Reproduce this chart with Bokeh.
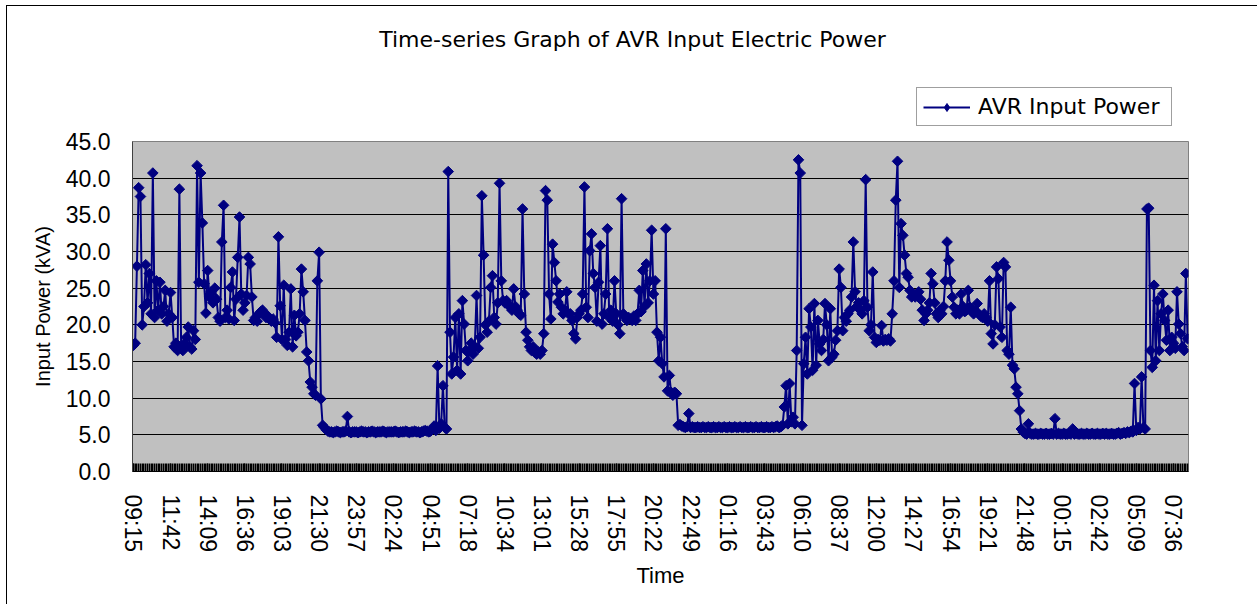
import math
from bokeh.plotting import figure
from bokeh.layouts import column
from bokeh.models import (Range1d, FixedTicker, Legend, LegendItem, Label,
                          PrintfTickFormatter)
from bokeh.embed import file_html
from bokeh.resources import INLINE

# ---------------- data ----------------
tick_labels = ["09:15", "11:42", "14:09", "16:36", "19:03", "21:30", "23:57", "02:24",
               "04:51", "07:18", "10:34", "13:01", "15:28", "17:55", "20:22", "22:49",
               "01:16", "03:43", "06:10", "08:37", "12:00", "14:27", "16:54", "19:21",
               "21:48", "00:15", "02:42", "05:09", "07:36"]

power_day1 = [
    17.2, 17.5, 28.0, 38.7, 37.5, 20.0, 22.5, 28.2, 23.0, 27.0, 21.5, 40.7, 21.0, 26.0, 22.0, 25.8, 21.5, 22.5, 24.7, 20.5, 21.5,
    24.4, 21.0, 17.0, 17.5, 16.5, 38.5, 17.0, 16.5, 17.5, 18.3, 19.7, 17.0, 16.7, 19.2, 18.0, 41.7, 25.8, 40.7, 33.9, 25.6, 21.6,
    27.4, 23.8, 24.5, 23.0, 25.0, 23.5, 21.0, 20.5, 31.3, 36.3, 21.0, 22.0, 20.8, 25.1, 27.2, 20.6, 23.5, 29.2, 34.7, 24.2, 22.0,
    23.0, 24.0, 29.2, 28.3, 23.8, 20.6, 21.0, 20.5, 21.5, 21.8, 22.0, 21.5, 21.0, 21.2, 20.8, 20.5, 20.8, 20.3, 18.3, 32.0, 22.6,
    18.0, 25.4, 18.0, 17.2, 19.0, 24.9, 17.0, 21.3, 18.5, 19.0, 21.5, 27.6, 24.5, 20.6, 16.3, 15.1, 12.2, 11.5, 10.6, 10.4, 26.0,
]
power_night1 = [
    29.9, 9.9, 6.3, 6.0, 5.7, 5.5, 5.4, 5.4, 5.3, 5.4, 5.5, 5.4, 5.3, 5.4, 5.4, 5.5, 7.5, 5.4, 5.3, 5.4, 5.4,
    5.4, 5.3, 5.4, 5.5, 5.4, 5.4, 5.3, 5.4, 5.4, 5.5, 5.4, 5.3, 5.4, 5.4, 5.4, 5.5, 5.4, 5.3, 5.4, 5.4, 5.4,
    5.4, 5.5, 5.4, 5.3, 5.4, 5.4, 5.4, 5.5, 5.4, 5.3, 5.4, 5.4, 5.5, 5.4, 5.4, 5.3, 5.4, 5.5, 5.6, 5.5, 5.4,
]
power_day2 = [
    5.5, 5.8, 6.2, 5.6, 14.4, 5.9, 6.5, 11.7, 6.0, 5.8, 40.9, 19.0, 13.3, 15.6, 21.0, 13.8, 21.5, 13.3, 23.3, 20.1, 16.5,
    15.1, 16.5, 17.5, 16.0, 17.0, 24.0, 16.8, 18.3, 37.6, 29.5, 20.0, 19.0, 20.5, 25.1, 26.7, 21.0, 20.1, 23.0, 39.3, 26.0, 23.3,
    23.0, 23.3, 22.8, 22.4, 22.0, 24.9, 22.5, 22.0, 21.5, 21.3, 35.8, 24.2, 19.0, 17.9, 17.0, 16.5, 17.0, 16.2, 16.0, 16.3, 16.0,
    16.5, 18.8, 38.3, 37.0, 24.2, 20.8, 31.0, 28.5, 26.0, 23.1, 24.2, 22.4, 21.5, 22.0, 24.5, 21.5, 21.5, 20.6, 18.8, 18.1, 21.0,
    21.5, 22.0, 24.2, 38.8, 22.4, 21.0, 30.1, 32.4, 27.0, 25.1, 20.5, 25.8, 30.8, 20.1, 21.5, 24.2, 33.1, 21.0, 22.0, 20.5, 26.0,
    21.5, 20.0, 18.8, 37.2, 21.5, 21.0, 20.6, 21.0, 20.8, 20.6, 21.2, 20.6, 21.5, 24.7, 21.8, 27.4, 22.5, 28.3, 23.0, 26.0, 32.9,
    24.2, 26.0, 19.0, 15.1, 18.3, 14.7, 12.9, 33.1, 11.0, 13.1, 10.8, 10.4, 10.8, 10.6, 6.3, 6.4, 6.2, 6.1, 6.0, 6.1, 7.9,
]
power_night2 = [
    6.0, 6.1, 6.0, 6.0, 6.1, 6.0, 6.0, 6.1, 6.0, 6.0, 6.1, 6.0, 6.0, 6.1, 6.0, 6.0, 6.1, 6.0, 6.0, 6.1, 6.0,
    6.0, 6.1, 6.0, 6.0, 6.1, 6.0, 6.0, 6.1, 6.0, 6.0, 6.1, 6.0, 6.0, 6.1, 6.0, 6.0, 6.1, 6.0, 6.0, 6.1, 6.0,
    6.0, 6.1, 6.0, 6.0, 6.1, 6.0, 6.1, 6.2, 6.0, 6.1, 6.3, 8.8, 11.7, 6.5, 12.0, 6.8, 7.4, 6.5, 16.5, 42.5, 40.7,
]
power_day3 = [
    6.3, 14.7, 18.3, 13.3, 22.2, 19.7, 13.8, 22.9, 14.5, 20.6, 17.4, 16.5, 18.0, 22.9, 20.0, 15.1, 22.2, 15.6, 16.0, 17.9, 19.2,
    27.6, 25.1, 19.2, 21.0, 20.5, 21.5, 22.0, 23.8, 31.3, 24.5, 22.5, 23.0, 22.0, 21.5, 23.3, 39.8, 22.4, 19.2, 20.0, 27.2, 18.3,
    17.6, 18.0, 17.9, 19.9, 17.8, 18.0, 17.9, 18.1, 17.8, 21.5, 26.0, 37.0, 42.3, 25.1, 33.8, 32.2, 29.5, 27.0, 26.5, 24.7, 23.8,
    24.0, 23.8, 24.2, 24.5, 23.5, 22.0, 20.6, 21.5, 22.0, 23.0, 27.0, 25.6, 23.0, 21.5, 21.0, 22.0, 21.5, 22.5, 26.0, 31.3, 28.8,
    26.0, 23.8, 22.4, 21.5, 22.0, 21.5, 24.2, 22.5, 21.8, 22.0, 24.7, 22.4, 21.8, 21.5, 21.8, 22.9, 21.5, 21.2, 21.0, 21.5, 21.0,
    20.5, 26.0, 18.8, 17.4, 20.0, 27.9, 26.3, 19.7, 18.3, 28.5, 27.9, 16.5, 16.0, 22.4, 14.5, 14.0, 11.5, 10.6, 8.3, 5.8, 5.4,
]
power_night3 = [
    5.2, 5.1, 6.5, 5.2, 5.1, 5.1, 5.2, 5.1, 5.1, 5.2, 5.1, 5.1, 5.2, 5.1, 5.1, 5.2, 5.1, 7.2, 5.1, 5.2, 5.1,
    5.1, 5.2, 5.1, 5.1, 5.2, 5.1, 5.8, 5.1, 5.2, 5.1, 5.1, 5.2, 5.1, 5.1, 5.2, 5.1, 5.1, 5.2, 5.1, 5.1, 5.2,
    5.1, 5.1, 5.2, 5.1, 5.2, 5.1, 5.1, 5.2, 5.1, 5.1, 5.2, 5.3, 5.1, 5.2, 5.3, 5.2, 5.4, 5.3, 5.5, 5.4, 12.0,
]
power_day4 = [
    5.6, 6.0, 5.8, 12.9, 6.0, 5.8, 35.8, 35.9, 16.5, 14.2, 25.4, 15.1, 23.3, 16.5, 21.5, 24.2, 20.6, 17.9, 22.0, 16.5, 18.3,
    17.5, 16.8, 24.5, 20.1, 18.8, 17.0, 16.5, 27.0, 18.1,
]

power_kva = (power_day1 + power_night1 + power_day2 + power_night2 +
             power_day3 + power_night3 + power_day4)
samples_per_label = 21
chart_title = "Time-series Graph of AVR Input Electric Power"
series_name = "AVR Input Power"

# ---------------- layout constants ----------------
n = len(power_kva)
idx = list(range(n))
label_pos = [k * samples_per_label for k in range(len(tick_labels))]

NAVY = "#000080"
TICK_FONT = "Liberation Sans"
TITLE_FONT = "DejaVu Sans"
W = 1250
TOP_H = 121
FRAME_W = 1056

# ---------------- header figure: title + legend ----------------
# (its drawing area is aligned with the main plot area: 1056 px wide)
head = figure(width=W, height=TOP_H, output_backend="svg", toolbar_location=None,
              x_range=Range1d(0, FRAME_W), y_range=Range1d(0, TOP_H),
              x_axis_location=None, y_axis_location=None,
              min_border=0, min_border_left=0, min_border_right=0,
              min_border_top=0, min_border_bottom=0,
              background_fill_color="white", border_fill_color="white",
              outline_line_color=None)
head.grid.visible = False
head.add_layout(Label(x=500, y=88, text=chart_title, text_font=TITLE_FONT,
                      text_font_size="22px", text_color="black",
                      text_align="center", text_baseline="middle"))
leg_line = head.line([-100, -90], [-100, -100], line_color=NAVY, line_width=2)
leg_mark = head.scatter([-100], [-100], marker="diamond", size=13,
                        fill_color=NAVY, line_color=NAVY)
legend = Legend(items=[LegendItem(label=series_name, renderers=[leg_line, leg_mark])],
                location=(784, 1), orientation="vertical",
                border_line_color="#404040", border_line_width=1,
                background_fill_color="white", background_fill_alpha=1.0,
                label_text_font=TITLE_FONT, label_text_font_size="22px",
                label_text_color="black", label_width=187,
                glyph_width=47, glyph_height=20, padding=6, label_standoff=8,
                margin=0, spacing=0)
head.add_layout(legend, "center")

# ---------------- main chart ----------------
p = figure(width=W, height=477, output_backend="svg", toolbar_location=None,
           x_range=Range1d(-0.5, n - 0.5), y_range=Range1d(0, 45),
           min_border_left=125, min_border_right=69,
           min_border_top=14, min_border_bottom=133,
           background_fill_color="#C0C0C0", border_fill_color="white",
           outline_line_color="#808080", outline_line_width=1)

p.line(idx, power_kva, line_color=NAVY, line_width=2)
p.scatter(idx, power_kva, marker="square", angle=math.pi / 4, size=7.5,
          fill_color=NAVY, line_color=NAVY, line_width=1)

# x axis
xa = p.xaxis[0]
xa.ticker = FixedTicker(ticks=label_pos, minor_ticks=idx)
xa.major_label_overrides = {pos: lab for pos, lab in zip(label_pos, tick_labels)}
xa.major_label_orientation = "vertical"
xa.major_label_text_font = TICK_FONT
xa.major_label_text_font_size = "23px"
xa.major_label_text_color = "black"
xa.major_label_standoff = 23
xa.major_tick_in = 8
xa.major_tick_out = 0
xa.minor_tick_in = 8
xa.minor_tick_out = 0
xa.major_tick_line_color = "black"
xa.minor_tick_line_color = "black"
xa.major_tick_line_width = 1.5
xa.minor_tick_line_width = 1.5
xa.axis_line_color = "black"
xa.axis_label = "Time"
xa.axis_label_text_font = TICK_FONT
xa.axis_label_text_font_size = "22px"
xa.axis_label_text_font_style = "normal"
xa.axis_label_text_color = "black"
xa.axis_label_standoff = 8

# y axis
ya = p.yaxis[0]
ya.ticker = FixedTicker(ticks=[0, 5, 10, 15, 20, 25, 30, 35, 40, 45])
ya.formatter = PrintfTickFormatter(format="%.1f")
ya.major_label_text_font = TICK_FONT
ya.major_label_text_font_size = "23px"
ya.major_label_text_color = "black"
ya.major_label_standoff = 22
ya.major_tick_in = 0
ya.major_tick_out = 0
ya.minor_tick_in = 0
ya.minor_tick_out = 0
ya.axis_line_color = "#404040"
ya.axis_label = "Input Power (kVA)"
ya.axis_label_text_font = TICK_FONT
ya.axis_label_text_font_size = "20px"
ya.axis_label_text_font_style = "normal"
ya.axis_label_text_color = "black"
ya.axis_label_standoff = 9

p.xgrid.visible = False
p.ygrid.ticker = FixedTicker(ticks=[5, 10, 15, 20, 25, 30, 35, 40])
p.ygrid.grid_line_color = "black"
p.ygrid.grid_line_width = 1

layout = column(head, p, spacing=0,
                styles={"margin-left": "6px", "margin-top": "5px",
                        "border-left": "1px solid black",
                        "border-top": "1px solid black"})

open("out.html", "w").write(file_html(layout, INLINE))
